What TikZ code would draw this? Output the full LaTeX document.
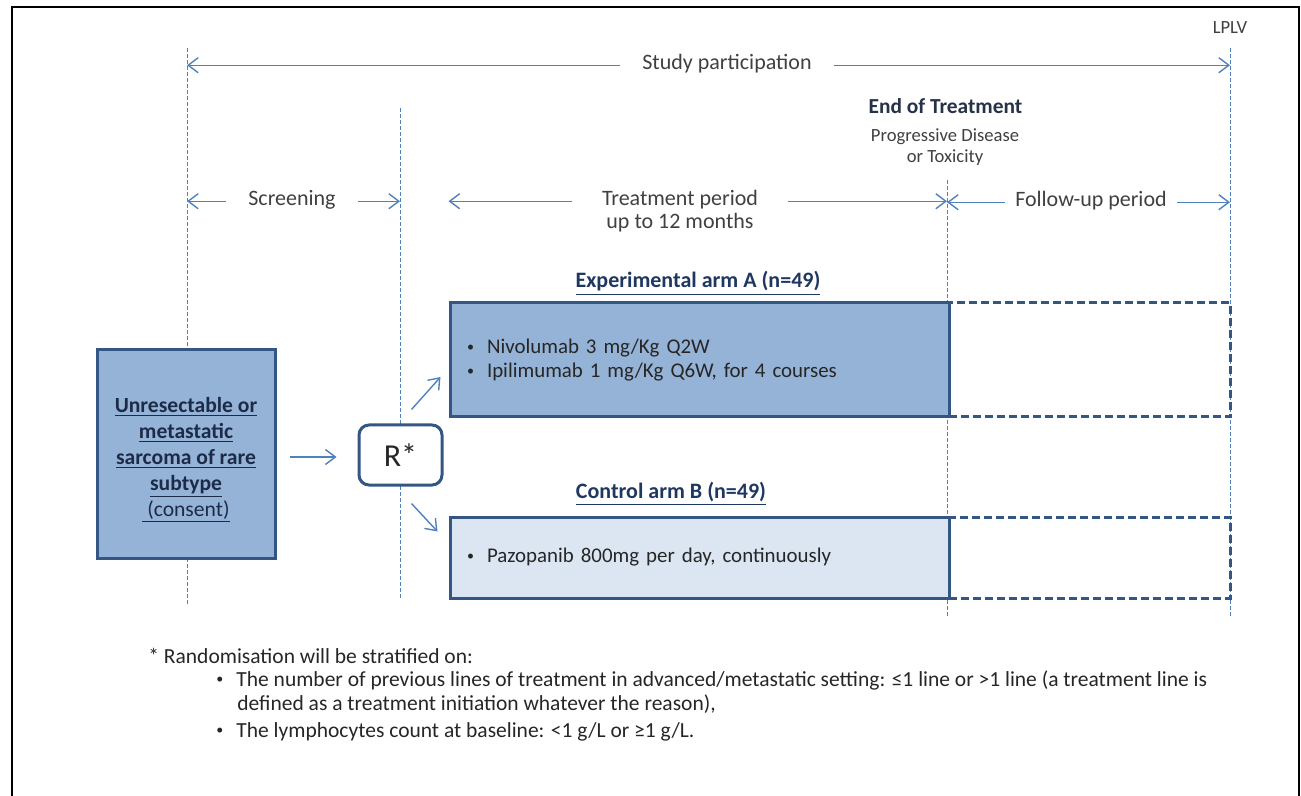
\documentclass[tikz,border=0pt]{standalone}
\usepackage{fontspec}
\setmainfont{Carlito}
\usetikzlibrary{calc, arrows.meta}

\definecolor{lineblue}{RGB}{79,129,189}
\definecolor{boxedge}{RGB}{52,86,130}
\definecolor{armfill}{RGB}{149,179,215}
\definecolor{ctrlfill}{RGB}{220,230,242}
\definecolor{labelgray}{RGB}{64,64,64}
\definecolor{titleblue}{RGB}{31,56,96}
\definecolor{poptext}{RGB}{28,44,72}
\definecolor{eotgray}{RGB}{38,50,72}
\definecolor{bodytext}{RGB}{38,38,38}

\newcommand{\blt}{\makebox[10pt][l]{\raisebox{.2ex}{\fontsize{7}{7}\selectfont\textbullet}}}

\begin{document}
\begin{tikzpicture}[x=.5pt, y=-.5pt,
	vline/.style={draw=lineblue, line width=.5pt, dash pattern=on 2pt off 1pt},
	arr/.style={draw=lineblue, line width=.7pt,
        -{Straight Barb[length=5pt, width=7.5pt]}},
	period/.style={text=labelgray, font=\fontsize{11}{13}\selectfont,
        inner xsep=11pt},
	small/.style={text=labelgray, font=\fontsize{9.3}{11}\selectfont},
	solidbox/.style={draw=boxedge, line width=1.5pt, rectangle},
	dashbox/.style={draw=boxedge, line width=1.5pt, rectangle,
        dash pattern=on 4pt off 2pt, minimum width=140.5pt},
	armtext/.style={text=bodytext, font=\fontsize{10.45}{12}\selectfont,
        align=left, text width=232.5pt, inner xsep=8.5pt, inner ysep=0pt},
	armtitle/.style={text=titleblue, font=\fontsize{11}{13}\selectfont\bfseries},
	notetext/.style={text=bodytext, font=\fontsize{10.75}{13}\selectfont,
        inner sep=0pt, anchor=base west}]
	\useasboundingbox (0, 0) rectangle (1301, 796);
	\draw[line width=1pt] (12, 796) -- (12, 7) -- (1299, 7) -- (1299, 796);

	\coordinate (v1t) at (187, 48);
	\coordinate (v1b) at (187, 605);
	\coordinate (v2t) at (400, 108);
	\coordinate (v2b) at (400, 598);
	\coordinate (v3t) at (947, 180);
	\coordinate (v3b) at (947, 617);
	\coordinate (v4t) at (1230, 48);
	\coordinate (v4b) at (1230, 617);
	\draw[vline] (v1t) -- (v1b);
	\draw[vline] (v2t) -- (v2b);
	\draw[vline] (v3t) -- (v3b);
	\draw[vline] (v4t) -- (v4b);

	\node (lplv) at (1230, 34) [anchor=base, small] {LPLV};
	\node (study) at (727, 70) [anchor=base, period] {Study participation};
	\node (eot) at (945.5, 114) [anchor=base, text=eotgray,
        font=\fontsize{10.7}{12}\selectfont\bfseries] {End of Treatment};
	\node (pd) at (945, 142) [anchor=base, small] {Progressive Disease};
	\node (tox) at (945, 163) [anchor=base, small] {or Toxicity};
	\node (scr) at (292, 206) [anchor=base, period] {Screening};
	\node (tp) at (680, 206) [anchor=base, period, inner xsep=15pt]
        {Treatment period};
	\node (tp2) at (680, 229) [anchor=base, period] {up to 12 months};
	\node (fu) at (1091, 207) [anchor=base, period, inner xsep=5pt]
        {Follow-up period};

	\node (fupA) at (1089.5, 360) [dashbox, minimum height=57pt] {};
	\node (fupB) at (1089.5, 557.5) [dashbox, minimum height=40.5pt] {};
	\node (armA) at (699.5, 360) [solidbox, armtext, fill=armfill,
        minimum height=57pt]
        {\blt Nivolumab 3 mg/Kg Q2W\\ \blt Ipilimumab 1 mg/Kg Q6W, for 4 courses};
	\node (armB) at (699.5, 557.5) [solidbox, armtext, fill=ctrlfill,
        minimum height=40.5pt] {\blt Pazopanib 800mg per day, continuously};
	\node (titA) at (698, 288) [anchor=base, armtitle]
        {\underline{Experimental arm A (n=49)}};
	\node (titB) at (671, 498) [anchor=base, armtitle]
        {\underline{Control arm B (n=49)}};

	\node (pop) at (186, 454) [solidbox, fill=armfill, minimum width=89pt,
        minimum height=104pt] {};
	\node (poptxt) at (186, 460) [align=center, text=poptext,
        font=\fontsize{10.8}{13}\selectfont]
        {\textbf{\underline{Unresectable or}}\\ \textbf{\underline{metastatic}}\\
        \textbf{\underline{sarcoma of rare}}\\ \textbf{\underline{subtype}}\\
        \underline{\ (consent)}};
	\node (rand) at (400.5, 455) [solidbox, rounded corners=5pt, fill=white,
        minimum width=41.5pt, minimum height=30pt, text=bodytext,
        font=\fontsize{16}{18}\selectfont] {R*};

	\draw[arr] (study.mid west) -- (study.mid west -| v1t);
	\draw[arr] (study.mid east) -- (study.mid east -| v4t);
	\draw[arr] (scr.mid west) -- (scr.mid west -| v1t);
	\draw[arr] (scr.mid east) -- (scr.mid east -| v2t);
	\draw[arr] (tp.mid west) -- (tp.mid west -| armA.west);
	\draw[arr] (tp.mid east) -- (tp.mid east -| v3t);
	\draw[arr] (fu.mid west) -- (fu.mid west -| v3t);
	\draw[arr] (fu.mid east) -- (fu.mid east -| v4t);
	\draw[arr] ($(pop.east)+(13,3)$) -- ($(rand.west)+(-21,2)$);
	\draw[arr] ($(rand.north)+(11,-14)$) -- ($(armA.west)+(-8,17)$);
	\draw[arr] ($(rand.south)+(11,17)$) -- ($(armB.west)+(-11,-26)$);

	\node (note) at (148, 663) [notetext] {* Randomisation will be stratified on:};
	\node (it1) at (216, 686) [notetext] {\blt The number of previous lines of
        treatment in advanced/metastatic setting: ≤1 line or >1 line (a
        treatment line is};
	\node (it1b) at (237, 710) [notetext] {defined as a treatment initiation
        whatever the reason),};
	\node (it2) at (216, 737) [notetext] {\blt The lymphocytes count at
        baseline: <1 g/L or ≥1 g/L.};
\end{tikzpicture}
\end{document}
